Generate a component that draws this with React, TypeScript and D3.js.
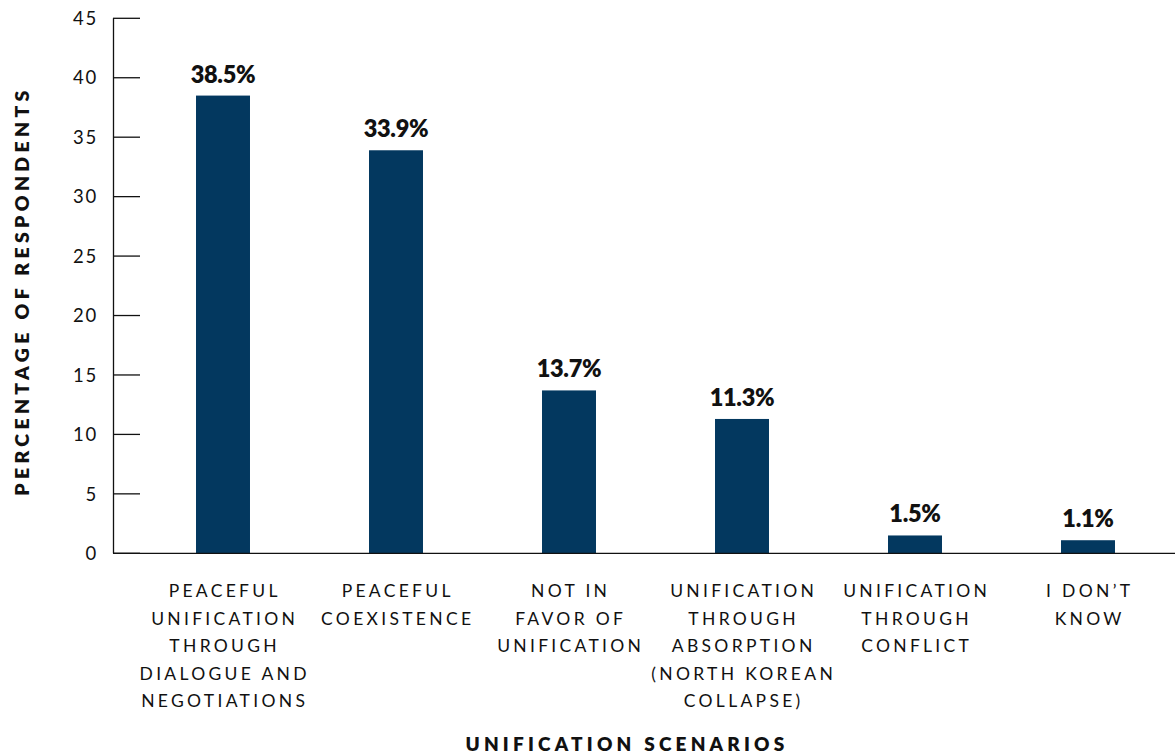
import React, { useEffect, useRef } from "react";
import * as d3 from "d3";

const categories = [
  ["PEACEFUL", "UNIFICATION", "THROUGH", "DIALOGUE AND", "NEGOTIATIONS"],
  ["PEACEFUL", "COEXISTENCE"],
  ["NOT IN", "FAVOR OF", "UNIFICATION"],
  ["UNIFICATION", "THROUGH", "ABSORPTION", "(NORTH KOREAN", "COLLAPSE)"],
  ["UNIFICATION", "THROUGH", "CONFLICT"],
  ["I DON\u2019T", "KNOW"],
];
const values = [38.5, 33.9, 13.7, 11.3, 1.5, 1.1];
const valueLabels = ["38.5%", "33.9%", "13.7%", "11.3%", "1.5%", "1.1%"];
const yTicks = [0, 5, 10, 15, 20, 25, 30, 35, 40, 45];
const yTitle = "PERCENTAGE OF RESPONDENTS";
const xTitle = "UNIFICATION SCENARIOS";

const W = 1175;
const H = 755;
const FONT = "Lato, 'Open Sans', sans-serif";
const BAR = "#03385f";

export default function App() {
  const ref = useRef<SVGSVGElement>(null);
  useEffect(() => {
    const svg = d3.select(ref.current);
    svg.selectAll("*").remove();
    const ids = categories.map((_, i) => String(i));
    const x = d3
      .scaleBand<string>()
      .domain(ids)
      .range([136.5, 1174.5])
      .paddingInner(0.688)
      .paddingOuter(0.344);
    const y = d3.scaleLinear().domain([0, 45]).range([553.3, 18.3]);

    svg
      .append("line")
      .attr("x1", 113.5)
      .attr("x2", 113.5)
      .attr("y1", y(45))
      .attr("y2", y(0))
      .attr("stroke", "#111")
      .attr("stroke-width", 1.3);
    const tg = svg.append("g");
    yTicks.forEach((t) => {
      tg.append("line")
        .attr("x1", 113)
        .attr("x2", 140)
        .attr("y1", y(t))
        .attr("y2", y(t))
        .attr("stroke", "#111")
        .attr("stroke-width", 1.3);
      tg.append("text")
        .attr("x", 98)
        .attr("y", y(t))
        .attr("dy", "0.36em")
        .attr("text-anchor", "end")
        .attr("font-family", FONT)
        .attr("font-size", 18.5)
        .attr("letter-spacing", 1.8)
        .attr("fill", "#111")
        .text(String(t));
    });

    svg
      .append("g")
      .selectAll("rect")
      .data(values)
      .join("rect")
      .attr("x", (_, i) => x(String(i))!)
      .attr("width", x.bandwidth())
      .attr("y", (d) => y(d))
      .attr("height", (d) => y(0) - y(d))
      .attr("fill", BAR);

    svg
      .append("line")
      .attr("x1", 113)
      .attr("x2", W)
      .attr("y1", y(0))
      .attr("y2", y(0))
      .attr("stroke", "#111")
      .attr("stroke-width", 1.3);

    svg
      .append("g")
      .selectAll("text")
      .data(values)
      .join("text")
      .attr("x", (_, i) => x(String(i))! + x.bandwidth() / 2)
      .attr("y", (d) => y(d) - 13)
      .attr("text-anchor", "middle")
      .attr("font-family", FONT)
      .attr("font-weight", 800)
      .attr("font-size", 23.5)
      .attr("letter-spacing", -0.3)
      .attr("fill", "#111")
      .text((_, i) => valueLabels[i]);

    const cg = svg.append("g");
    categories.forEach((lines, i) => {
      const cx = x(String(i))! + x.bandwidth() / 2;
      lines.forEach((ln, j) => {
        cg.append("text")
          .attr("x", cx + 1.7)
          .attr("y", 597 + j * 27.5)
          .attr("text-anchor", "middle")
          .attr("font-family", FONT)
          .attr("font-size", 17.5)
          .attr("letter-spacing", 3.3)
          .attr("fill", "#111")
          .text(ln);
      });
    });

    svg
      .append("text")
      .attr("transform", `translate(29,291) rotate(-90)`)
      .attr("text-anchor", "middle")
      .attr("font-family", FONT)
      .attr("font-weight", 800)
      .attr("font-size", 19.5)
      .attr("letter-spacing", 4.3)
      .attr("fill", "#111")
      .text(yTitle);

    svg
      .append("text")
      .attr("x", 627)
      .attr("y", 751)
      .attr("text-anchor", "middle")
      .attr("font-family", FONT)
      .attr("font-weight", 800)
      .attr("font-size", 19)
      .attr("letter-spacing", 4.2)
      .attr("fill", "#111")
      .text(xTitle);
  }, []);

  return (
    <svg
      ref={ref}
      width={W}
      height={H}
      style={{ position: "absolute", left: 0, top: 0, display: "block", background: "#fff" }}
    />
  );
}
